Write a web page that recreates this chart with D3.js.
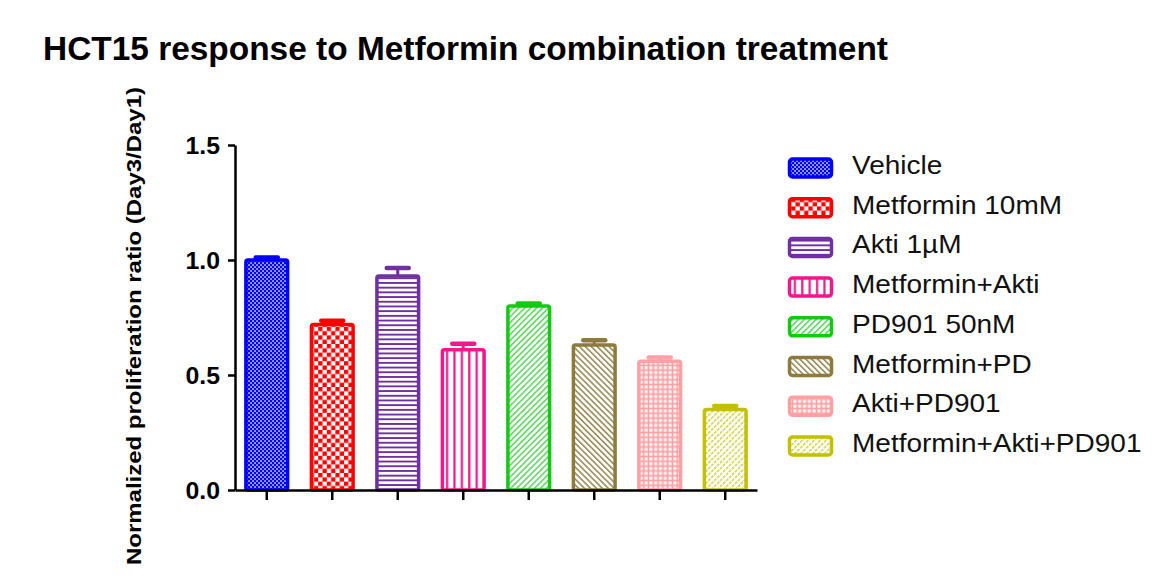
<!DOCTYPE html>
<html>
<head>
<meta charset="utf-8">
<script src="https://cdn.jsdelivr.net/npm/d3@7"></script>
<style>
  html, body { margin: 0; padding: 0; background: #fff; }
  svg { display: block; font-family: "Liberation Sans", Arial, sans-serif; }
</style>
</head>
<body>
<svg id="chart" width="1160" height="588"></svg>
<script>
// Treatment groups, in plotting order
const categories = [
  "Vehicle", "Metformin 10mM", "Akti 1\u00B5M", "Metformin+Akti",
  "PD901 50nM", "Metformin+PD", "Akti+PD901", "Metformin+Akti+PD901"
];
// Mean normalized proliferation ratio (Day3/Day1) and error
const means  = [1.00, 0.72, 0.93, 0.61, 0.80, 0.63, 0.56, 0.35];
const errors = [0.015, 0.02, 0.04, 0.03, 0.015, 0.025, 0.02, 0.02];
const yTicks = [0, 0.5, 1.0, 1.5];

const strokeColors = ["#0000ff", "#ff0000", "#7030a0", "#f0188c",
                      "#14c814", "#8c7b3c", "#ffa0a4", "#c4c000"];

const svg = d3.select("#chart");
const defs = svg.append("defs");

// stretch text horizontally by a factor
function stretch(sel, k) {
  sel.each(function () {
    const w = this.getComputedTextLength();
    d3.select(this).attr("textLength", w * k).attr("lengthAdjust", "spacingAndGlyphs");
  });
}

// ---- fill patterns ----
function pat(id, size) {
  return defs.append("pattern").attr("id", id)
    .attr("patternUnits", "userSpaceOnUse").attr("width", size).attr("height", size);
}
// fine blue checker
{
  const p = pat("p0", 4);
  p.append("rect").attr("width", 4).attr("height", 4).attr("fill", "#0000ff");
  p.append("rect").attr("x", 0.3).attr("y", 0.3).attr("width", 1.5).attr("height", 1.5).attr("fill", "#fff");
  p.append("rect").attr("x", 2.3).attr("y", 2.3).attr("width", 1.5).attr("height", 1.5).attr("fill", "#fff");
}
// coarse red checker
{
  const s = 8.6, h = s / 2;
  const p = pat("p1", s);
  p.append("rect").attr("width", s).attr("height", s).attr("fill", "#fff");
  p.append("rect").attr("width", h).attr("height", h).attr("fill", "#ff0000");
  p.append("rect").attr("x", h).attr("y", h).attr("width", h).attr("height", h).attr("fill", "#ff0000");
}
// purple horizontal stripes
{
  const p = pat("p2", 4.7);
  p.append("rect").attr("width", 4.7).attr("height", 4.7).attr("fill", "#fff");
  p.append("rect").attr("y", 0).attr("width", 4.7).attr("height", 1.9).attr("fill", "#7030a0");
}
// pink vertical stripes
{
  const p = pat("p3", 7.4);
  p.append("rect").attr("width", 7.4).attr("height", 7.4).attr("fill", "#fff");
  p.append("rect").attr("x", 2).attr("width", 2.2).attr("height", 7.4).attr("fill", "#f0188c");
}
// green forward diagonals
{
  const p = pat("p4", 4.2).attr("patternTransform", "rotate(45)");
  p.append("rect").attr("width", 4.2).attr("height", 4.2).attr("fill", "#fff");
  p.append("rect").attr("width", 1.6).attr("height", 4.2).attr("fill", "#62d862");
}
// olive back diagonals
{
  const p = pat("p5", 4.2).attr("patternTransform", "rotate(-45)");
  p.append("rect").attr("width", 4.2).attr("height", 4.2).attr("fill", "#fff");
  p.append("rect").attr("width", 1.6).attr("height", 4.2).attr("fill", "#9c8c58");
}
// light pink grid
{
  const s = 4.8;
  const p = pat("p6", s);
  p.append("rect").attr("width", s).attr("height", s).attr("fill", "#ffa0a4");
  p.append("rect").attr("x", 1.4).attr("y", 1.4).attr("width", 3.0).attr("height", 3.0).attr("fill", "#fff");
}
// yellow dashed forward diagonals
{
  const p = pat("p7", 4.2).attr("patternTransform", "rotate(45)");
  p.append("rect").attr("width", 4.2).attr("height", 4.2).attr("fill", "#fff");
  p.append("rect").attr("width", 1.6).attr("height", 3.2).attr("fill", "#d6d650");
}

// ---- scales ----
const x = d3.scaleBand().domain(categories).range([235, 757])
  .paddingInner(0.31).paddingOuter(0.14);
const y = d3.scaleLinear().domain([0, 1.5]).range([490, 145]);

// ---- title ----
svg.append("text")
  .attr("x", 43).attr("y", 60)
  .attr("font-size", 33).attr("font-weight", "bold").attr("fill", "#000")
  .text("HCT15 response to Metformin combination treatment")
  .attr("textLength", 845).attr("lengthAdjust", "spacingAndGlyphs");

// ---- y axis label ----
svg.append("text")
  .attr("transform", "translate(141,326) rotate(-90)")
  .attr("text-anchor", "middle")
  .attr("font-size", 21).attr("font-weight", "bold").attr("fill", "#000")
  .text("Normalized proliferation ratio (Day3/Day1)")
  .attr("textLength", 478).attr("lengthAdjust", "spacingAndGlyphs");

// ---- bars ----
const bars = svg.append("g");
const bw = x.bandwidth();
const sw = 3.5;
categories.forEach((c, i) => {
  const x0 = x(c);
  const top = y(means[i]);
  // error bar: stem and thick cap
  const capY = y(means[i] + errors[i]);
  bars.append("line")
    .attr("x1", x0 + bw / 2).attr("x2", x0 + bw / 2)
    .attr("y1", top).attr("y2", capY)
    .attr("stroke", strokeColors[i]).attr("stroke-width", 3);
  bars.append("line")
    .attr("x1", x0 + bw / 2 - 11).attr("x2", x0 + bw / 2 + 11)
    .attr("y1", capY + 1).attr("y2", capY + 1)
    .attr("stroke", strokeColors[i]).attr("stroke-width", 4.5)
    .attr("stroke-linecap", "round");
  bars.append("rect")
    .attr("x", x0 + sw / 2).attr("y", top)
    .attr("width", bw - sw).attr("height", y(0) - top)
    .attr("rx", 2)
    .attr("fill", `url(#p${i})`)
    .attr("stroke", strokeColors[i]).attr("stroke-width", sw);
});

// ---- axes ----
const yAxis = svg.append("g")
  .attr("transform", "translate(235,0)")
  .call(d3.axisLeft(y).tickValues(yTicks).tickFormat(d3.format(".1f"))
    .tickSize(7).tickSizeOuter(0).tickPadding(8));
const xAxis = svg.append("g")
  .attr("transform", "translate(0,490)")
  .call(d3.axisBottom(x).tickFormat("").tickSize(10).tickSizeOuter(0));

[yAxis, xAxis].forEach(g => {
  g.attr("font-size", null).attr("font-family", null);
  g.select(".domain").attr("stroke", "#000").attr("stroke-width", 2.5);
  g.selectAll(".tick line").attr("stroke", "#000").attr("stroke-width", 2.5);
});
yAxis.selectAll(".tick text")
  .style("font-family", "'Liberation Sans', Arial, sans-serif")
  .style("font-size", "23px").style("font-weight", "bold").attr("fill", "#000")
  .attr("dy", "0.36em")
  .call(stretch, 1.08);

// ---- legend ----
const legend = svg.append("g");
categories.forEach((c, i) => {
  const cy = 168 + 39.7 * i;
  legend.append("rect")
    .attr("x", 789.5).attr("y", cy - 9).attr("width", 42).attr("height", 18)
    .attr("rx", 3)
    .attr("fill", `url(#p${i})`)
    .attr("stroke", strokeColors[i]).attr("stroke-width", 3.5);
  legend.append("text")
    .attr("x", 852).attr("y", cy - 3).attr("dy", "0.36em")
    .attr("font-size", 25).attr("fill", "#111")
    .text(c)
    .call(stretch, 1.12);
});
</script>
</body>
</html>
